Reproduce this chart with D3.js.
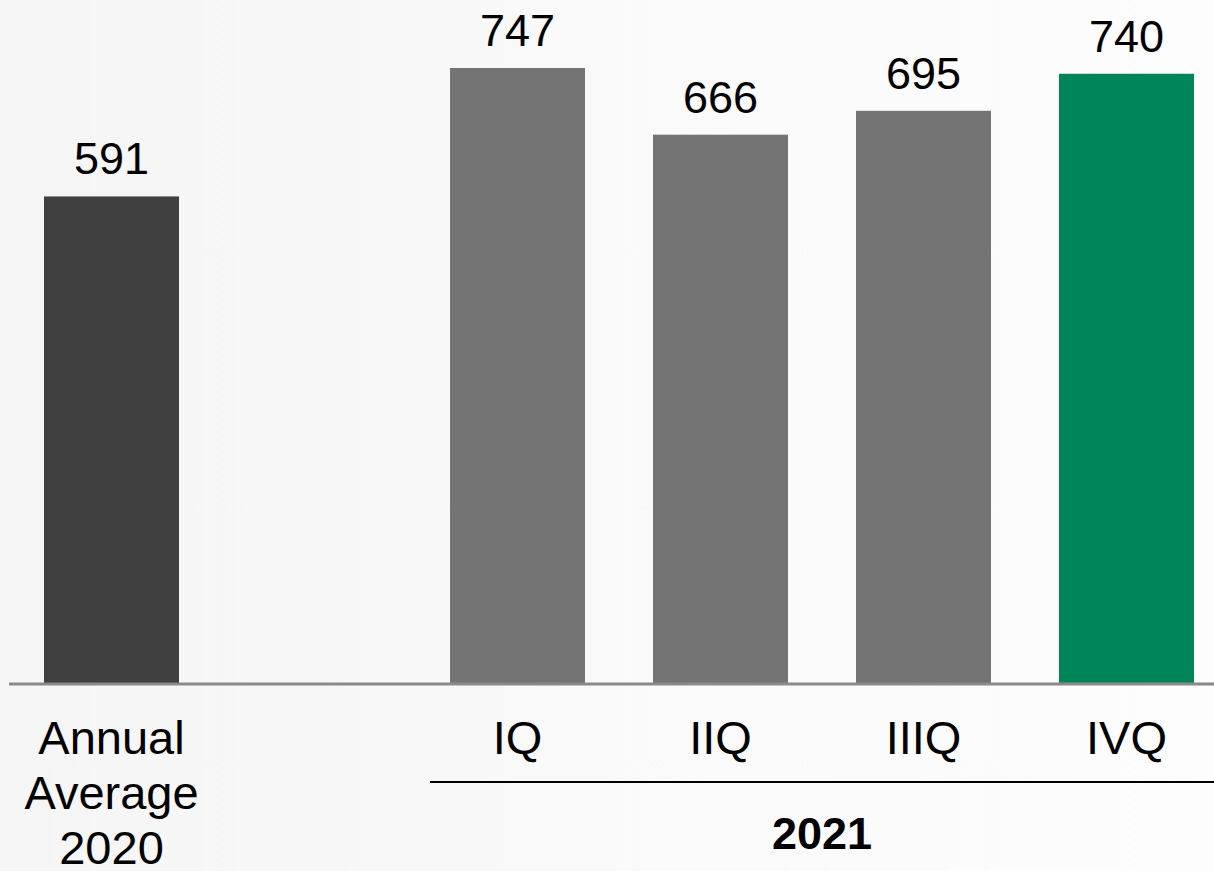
<!DOCTYPE html>
<html>
<head>
<meta charset="utf-8">
<script src="https://cdn.jsdelivr.net/npm/d3@7"></script>
<style>
  html, body { margin: 0; padding: 0; background: #ffffff; }
  svg { display: block; }
  text { font-family: "Liberation Sans", Arial, sans-serif; fill: #000; }
</style>
</head>
<body>
<svg id="chart" width="1214" height="871"></svg>
<script>
// Categories (a blank slot separates the 2020 average from the 2021 quarters)
const categories = ["Annual Average 2020", "", "IQ", "IIQ", "IIIQ", "IVQ"];
const values = [591, null, 747, 666, 695, 740];
const barColors = ["#404040", null, "#737473", "#737473", "#737473", "#00845a"];
const categoryLines = [["Annual", "Average", "2020"], [], ["IQ"], ["IIQ"], ["IIIQ"], ["IVQ"]];
const groupLabel = "2021";
const groupMembers = ["IQ", "IIQ", "IIIQ", "IVQ"];

const W = 1214, H = 871;
const svg = d3.select("#chart");

// Soft background
const defs = svg.append("defs");
const grad = defs.append("linearGradient").attr("id", "bg").attr("x1", 0).attr("x2", 1).attr("y1", 0).attr("y2", 0);
grad.append("stop").attr("offset", 0).attr("stop-color", "#f5f5f5");
grad.append("stop").attr("offset", 0.6).attr("stop-color", "#fafafa");
grad.append("stop").attr("offset", 1).attr("stop-color", "#fdfdfd");
svg.append("rect").attr("width", W).attr("height", H).attr("fill", "url(#bg)");

const baseY = 683;
const x = d3.scaleBand().domain(categories.map((c, i) => i)).range([10, 1228]).paddingInner(0.335).paddingOuter(0.1675);
const y = d3.scaleLinear().domain([0, 747]).range([baseY, 68]);

const data = categories.map((c, i) => ({ i, c, v: values[i], color: barColors[i], lines: categoryLines[i] }));
const bars = data.filter(d => d.v != null);

svg.append("g").selectAll("rect").data(bars).join("rect")
  .attr("x", d => x(d.i))
  .attr("width", x.bandwidth())
  .attr("y", d => y(d.v))
  .attr("height", d => y(0) - y(d.v))
  .attr("fill", d => d.color);

// Value labels
svg.append("g").selectAll("text").data(bars).join("text")
  .attr("x", d => x(d.i) + x.bandwidth() / 2)
  .attr("y", d => y(d.v) - 22)
  .attr("text-anchor", "middle")
  .attr("font-size", 45)
  .text(d => d3.format("d")(d.v));

// Baseline
svg.append("line").attr("x1", 9).attr("x2", W).attr("y1", baseY + 1).attr("y2", baseY + 1)
  .attr("stroke", "#8a8a8a").attr("stroke-width", 3);

// Category labels
const catG = svg.append("g").selectAll("text").data(data.filter(d => d.lines.length)).join("text")
  .attr("text-anchor", "middle")
  .attr("font-size", 47);
catG.selectAll("tspan").data(d => d.lines.map(l => ({ l, cx: x(d.i) + x.bandwidth() / 2 }))).join("tspan")
  .attr("x", t => t.cx)
  .attr("y", (t, k) => 754 + k * 55)
  .text(t => t.l);

// Group bracket line and label for 2021
const gIdx = groupMembers.map(m => categories.indexOf(m));
const gx0 = x(gIdx[0]) - 20;
const gCenter = (x(gIdx[0]) + x(gIdx[gIdx.length - 1]) + x.bandwidth()) / 2;
svg.append("line").attr("x1", gx0).attr("x2", W).attr("y1", 782).attr("y2", 782)
  .attr("stroke", "#000").attr("stroke-width", 2);
svg.append("text").attr("x", gCenter).attr("y", 849).attr("text-anchor", "middle")
  .attr("font-size", 45).attr("font-weight", "bold").text(groupLabel);
</script>
</body>
</html>
